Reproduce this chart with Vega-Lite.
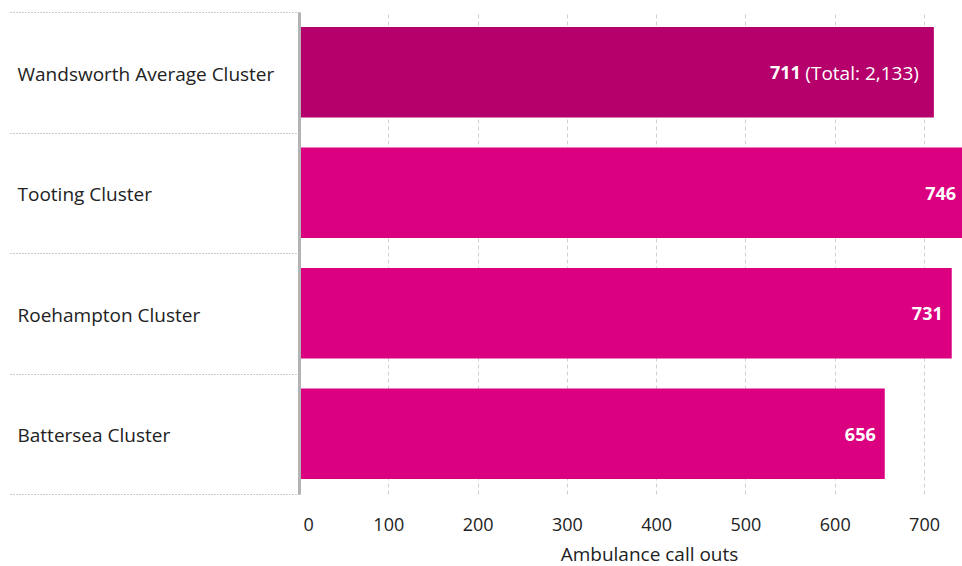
{
  "$schema": "https://vega.github.io/schema/vega-lite/v6.json",
  "width": 663,
  "height": 482,
  "autosize": {"type": "none"},
  "padding": {"left": 299, "top": 12, "right": 0, "bottom": 72},
  "config": {"view": {"stroke": null}, "font": "Open Sans"},
  "data": {
    "values": [
      {"cluster": "Wandsworth Average Cluster", "calls": 711, "group": "average", "total": "(Total: 2,133)"},
      {"cluster": "Tooting Cluster", "calls": 746, "group": "cluster"},
      {"cluster": "Roehampton Cluster", "calls": 731, "group": "cluster"},
      {"cluster": "Battersea Cluster", "calls": 656, "group": "cluster"}
    ]
  },
  "encoding": {
    "y": {
      "field": "cluster",
      "type": "nominal",
      "sort": null,
      "scale": {"paddingInner": 0, "paddingOuter": 0},
      "axis": {
        "title": null,
        "orient": "left",
        "zindex": 1,
        "domainColor": "#b3b3b3",
        "domainWidth": 3,
        "ticks": true,
        "tickBand": "extent",
        "tickSize": 291,
        "tickDash": [1, 2],
        "tickColor": "#9a9a9a",
        "tickWidth": 1,
        "labelAlign": "left",
        "labelPadding": -9,
        "labelOffset": 2,
        "labelLimit": 0,
        "labelFontSize": 19,
        "labelColor": "#222222",
        "labelFont": "Open Sans"
      }
    },
    "x": {
      "field": "calls",
      "type": "quantitative",
      "scale": {"domain": [0, 742.5], "nice": false},
      "axis": {
        "title": "Ambulance call outs",
        "values": [0, 100, 200, 300, 400, 500, 600, 700],
        "domain": false,
        "ticks": false,
        "grid": true,
        "gridDash": [4, 3],
        "gridColor": "#d0d0d0",
        "labelFontSize": 18,
        "labelColor": "#222222",
        "labelBaseline": "alphabetic",
        "labelPadding": 36,
        "labelFlush": true,
        "labelFlushOffset": -4,
        "titleFontSize": 19,
        "titleFontWeight": "normal",
        "titleColor": "#222222",
        "titleX": 350,
        "titleY": 66,
        "titleBaseline": "alphabetic",
        "titleAlign": "center"
      }
    }
  },
  "layer": [
    {
      "mark": {"type": "bar", "clip": true, "height": {"band": 0.75}},
      "encoding": {
        "color": {
          "field": "group",
          "type": "nominal",
          "scale": {"domain": ["average", "cluster"], "range": ["#b5006b", "#da0080"]},
          "legend": null
        }
      }
    },
    {
      "transform": [{"filter": "datum.group === 'cluster'"}],
      "mark": {"type": "text", "align": "right", "baseline": "middle", "dx": -9, "dy": 2, "fontWeight": "bold", "color": "white", "fontSize": 18},
      "encoding": {"text": {"field": "calls", "type": "quantitative", "format": ","}}
    },
    {
      "transform": [{"filter": "datum.group === 'average'"}],
      "mark": {"type": "text", "align": "right", "baseline": "middle", "dx": -15, "dy": 2, "color": "white", "fontSize": 19},
      "encoding": {"text": {"field": "total", "type": "nominal"}}
    },
    {
      "transform": [{"filter": "datum.group === 'average'"}],
      "mark": {"type": "text", "align": "right", "baseline": "middle", "dx": -133, "dy": 2, "fontWeight": "bold", "color": "white", "fontSize": 18},
      "encoding": {"text": {"field": "calls", "type": "quantitative", "format": ","}}
    }
  ]
}
